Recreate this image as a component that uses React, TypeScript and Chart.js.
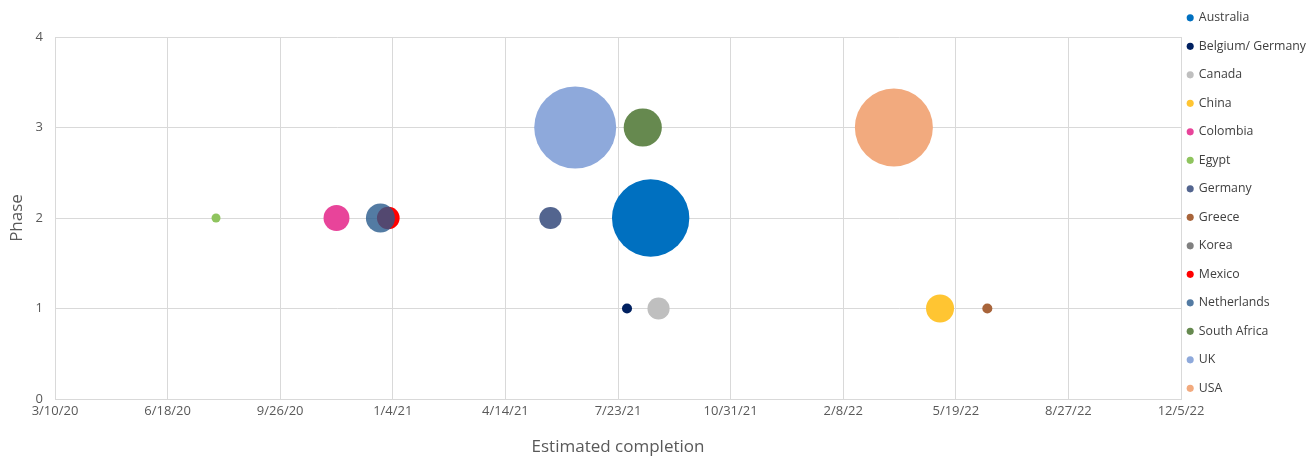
import React, { useEffect, useRef } from 'react';
import { Chart, registerables } from 'chart.js';

Chart.register(...registerables);

// ---- data ----
const countries = ['Australia', 'Belgium/ Germany', 'Canada', 'China', 'Colombia', 'Egypt', 'Germany', 'Greece', 'Korea', 'Mexico', 'Netherlands', 'South Africa', 'UK', 'USA'];
const completionDates = ['2021-08-21', '2021-07-31', '2021-08-28', '2022-05-05', '2020-11-15', '2020-07-31', '2021-05-24', '2022-06-16', '2021-06-15', '2020-12-31', '2020-12-24', '2021-08-14', '2021-06-15', '2022-03-25'];
const phases = [2, 1, 1, 1, 2, 2, 2, 1, 3, 2, 2, 3, 3, 3];
const bubbleSizes = [26700, 450, 2200, 3500, 3000, 360, 2200, 450, 2000, 2300, 3750, 6500, 30000, 27150];
const colors = ['#0070C0', '#002060', '#BFBFBF', '#FFC532', '#E8449A', '#8FC45E', '#53658F', '#A8643A', '#808080', '#FF0000', 'rgba(40,90,140,0.8)', '#66894F', '#8EA9DB', '#F2AA7E'];
const xTickLabels = ['3/10/20', '6/18/20', '9/26/20', '1/4/21', '4/14/21', '7/23/21', '10/31/21', '2/8/22', '5/19/22', '8/27/22', '12/5/22'];
const yTickValues = [0, 1, 2, 3, 4];

const MAX_RADIUS = 41;
const PLOT_TOP = 37;

function isoToSerial(iso: string): number {
  const [y, m, d] = iso.split('-').map(Number);
  return Date.UTC(y, m - 1, d) / 86400000 + 25569;
}
function labelToSerial(label: string): number {
  const [m, d, yy] = label.split('/').map(Number);
  return Date.UTC(2000 + yy, m - 1, d) / 86400000 + 25569;
}

const xTickValues = xTickLabels.map(labelToSerial);
const maxSize = Math.max(...bubbleSizes);

// moves the legend box after layout: closer to the plot edge and up to the canvas top
const legendNudge = {
  id: 'legendNudge',
  afterLayout(chart: any) {
    const lg = chart.legend;
    if (!lg) return;
    lg.left -= 9.5;
    lg.top -= PLOT_TOP + 4.5;
  },
};

export default function App() {
  const ref = useRef<HTMLCanvasElement | null>(null);

  useEffect(() => {
    if (!ref.current) return;
    const datasets = countries.map((name, i) => ({
      label: name,
      data: [{ x: isoToSerial(completionDates[i]), y: phases[i], r: MAX_RADIUS * Math.sqrt(bubbleSizes[i] / maxSize) }],
      backgroundColor: colors[i],
      borderWidth: 0,
      hoverBorderWidth: 0,
      order: countries.length - i,
    }));

    const chart = new Chart(ref.current, {
      type: 'bubble',
      data: { datasets },
      plugins: [legendNudge],
      options: {
        animation: false,
        responsive: false,
        layout: { autoPadding: false, padding: { top: PLOT_TOP, left: 0, right: 0, bottom: 0 } },
        plugins: {
          tooltip: { enabled: false },
          title: { display: false },
          legend: {
            position: 'right',
            align: 'start',
            maxWidth: 133,
            labels: {
              usePointStyle: true,
              pointStyle: 'circle',
              boxWidth: 5,
              boxHeight: 5,
              padding: 16.2,
              color: '#404040',
              font: { family: '"Open Sans", sans-serif', size: 12.3 },
              sort: (a: any, b: any) => a.datasetIndex - b.datasetIndex,
            },
          },
        },
        scales: {
          x: {
            type: 'linear',
            min: xTickValues[0],
            max: xTickValues[xTickValues.length - 1],
            afterBuildTicks: (scale: any) => {
              scale.ticks = xTickValues.map((v) => ({ value: v }));
            },
            afterFit: (scale: any) => {
              scale.height = 58;
            },
            ticks: {
              padding: 4,
              color: '#595959',
              font: { family: '"Open Sans", sans-serif', size: 13 },
              maxRotation: 0,
              autoSkip: false,
              callback: (v: any) => {
                const i = xTickValues.indexOf(Number(v));
                return i >= 0 ? xTickLabels[i] : '';
              },
            },
            grid: { color: '#D9D9D9', lineWidth: 1, drawTicks: false },
            border: { display: true, color: '#D9D9D9' },
            title: {
              display: true,
              text: 'Estimated completion',
              color: '#595959',
              font: { family: '"Open Sans", sans-serif', size: 17 },
              padding: { top: 0, bottom: 0 },
            },
          },
          y: {
            type: 'linear',
            min: yTickValues[0],
            max: yTickValues[yTickValues.length - 1],
            afterBuildTicks: (scale: any) => {
              scale.ticks = yTickValues.map((v) => ({ value: v }));
            },
            afterFit: (scale: any) => {
              scale.width = 55;
            },
            ticks: {
              padding: 12,
              color: '#595959',
              font: { family: '"Open Sans", sans-serif', size: 13 },
            },
            grid: { color: '#D9D9D9', lineWidth: 1, drawTicks: false },
            border: { display: true, color: '#D9D9D9' },
            title: {
              display: true,
              text: 'Phase',
              color: '#595959',
              font: { family: '"Open Sans", sans-serif', size: 17 },
              padding: { top: 7, bottom: 0 },
            },
          },
        },
      },
    } as any);
    return () => chart.destroy();
  }, []);

  return (
    <div style={{ position: 'fixed', left: 0, top: 0, width: 1314, height: 457, background: '#fff' }}>
      <canvas ref={ref} width={1314} height={457} style={{ display: 'block' }} />
    </div>
  );
}
